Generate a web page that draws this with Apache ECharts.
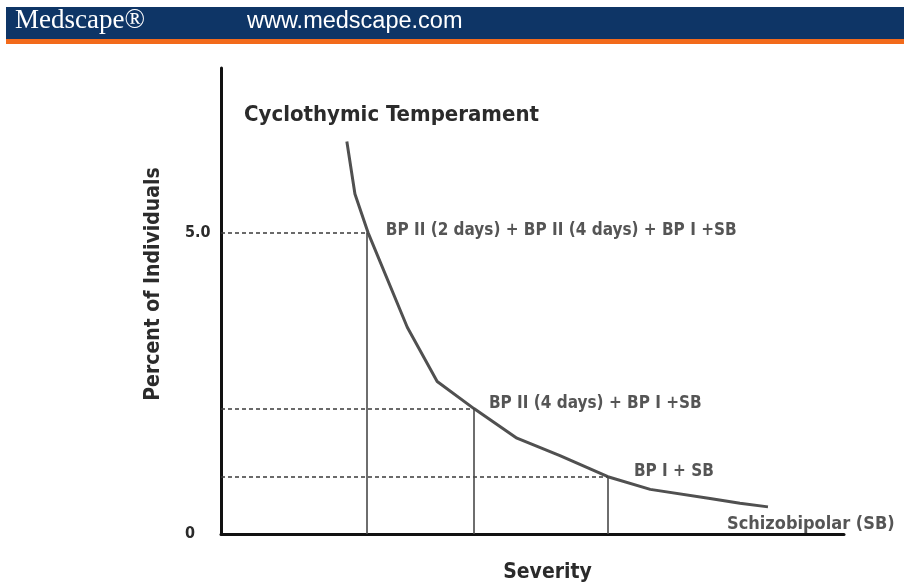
<!DOCTYPE html>
<html>
<head>
<meta charset="utf-8">
<script src="https://cdn.jsdelivr.net/npm/echarts@6/dist/echarts.min.js"></script>
<style>
  html, body { margin: 0; padding: 0; background: #fff; }
  #chart { width: 904px; height: 588px; }
</style>
</head>
<body>
<div id="chart"></div>
<script>
"use strict";

/* curve: severity (arbitrary 0-10) vs percent of individuals */
var curveSeverity = [2.02, 2.15, 2.36, 2.99, 3.47, 4.06, 4.75, 5.44, 6.21, 6.89, 7.85, 8.33, 8.78];
var curvePercent  = [6.51, 5.64, 5.00, 3.43, 2.53, 2.08, 1.59, 1.30, 0.95, 0.74, 0.59, 0.51, 0.45];

/* cut-off points with their labels */
var cutSeverity = [2.34, 4.06, 6.21];
var cutPercent  = [5.0, 2.08, 0.95];
var cutLabels   = ['BP II (2 days) + BP II (4 days) + BP I +SB', 'BP II (4 days) + BP I +SB', 'BP I + SB'];
var endLabel    = 'Schizobipolar (SB)';

var yTicks = [0, 5];

var FONT = '"DejaVu Sans Condensed", "Liberation Sans Narrow", sans-serif';
var INK = '#2b2b2b';

var chart = echarts.init(document.getElementById('chart'));

var curveData = [];
for (var i = 0; i < curveSeverity.length; i++) {
  curveData.push([curveSeverity[i], curvePercent[i]]);
}

var dashLines = [], dropLines = [], textPoints = [];
var labelOffsets = [[14, -2], [10, -5], [21, -5]];
for (var k = 0; k < cutSeverity.length; k++) {
  dashLines.push([{ coord: [0, cutPercent[k]] }, { coord: [cutSeverity[k], cutPercent[k]] }]);
  dropLines.push([{ coord: [cutSeverity[k], 0] }, { coord: [cutSeverity[k], cutPercent[k]] }]);
  textPoints.push({
    value: [cutSeverity[k], cutPercent[k]],
    label: { show: true, formatter: cutLabels[k], position: 'right', offset: labelOffsets[k] }
  });
}
// label at the tail of the curve
textPoints.push({
  value: [curveSeverity[curveSeverity.length - 1], curvePercent[curvePercent.length - 1]],
  label: { show: true, formatter: endLabel, position: 'right', offset: [-46, 17], fontSize: 18 }
});

var option = {
  backgroundColor: '#fff',
  animation: false,
  title: {
    text: 'Cyclothymic Temperament',
    left: 239, top: 99,
    textStyle: { fontFamily: FONT, fontWeight: 'bold', fontSize: 22, color: INK }
  },
  graphic: [
    { type: 'rect', shape: { x: 6, y: 7, width: 898, height: 32 }, style: { fill: '#0e3566' } },
    { type: 'rect', shape: { x: 6, y: 39, width: 898, height: 5 }, style: { fill: '#f26a1b' } },
    { type: 'text', left: 15, top: 7,
      style: { text: 'Medscape\u00ae', fill: '#fff', font: '27px "Liberation Serif", serif' } },
    { type: 'text', left: 247, top: 10,
      style: { text: 'www.medscape.com', fill: '#fff', font: '23.5px "Liberation Sans", Arial, sans-serif' } }
  ],
  grid: { left: 221, right: 60, top: 68, bottom: 49 },
  xAxis: {
    type: 'value', min: 0, max: 10,
    name: 'Severity', nameLocation: 'middle', nameGap: 28,
    nameTextStyle: { fontFamily: FONT, fontWeight: 'bold', fontSize: 21, color: INK, padding: [0, 0, 0, 30] },
    axisLine: { lineStyle: { color: '#111', width: 3 } },
    axisTick: { show: false }, axisLabel: { show: false }, splitLine: { show: false }
  },
  yAxis: {
    type: 'value', min: 0, max: 7.73,
    name: 'Percent of Individuals', nameLocation: 'middle', nameGap: 57, nameRotate: 90,
    nameTextStyle: { fontFamily: FONT, fontWeight: 'bold', fontSize: 21, color: INK, padding: [0, 0, 0, 34] },
    axisLine: { show: true, lineStyle: { color: '#111', width: 3 } },
    axisTick: { show: false },
    axisLabel: {
      customValues: yTicks, margin: 36, align: 'left', padding: [10, 0, 0, 0],
      formatter: function (v) { return v === 0 ? '0' : v.toFixed(1); },
      fontFamily: FONT, fontWeight: 'bold', fontSize: 16, color: INK
    },
    splitLine: { show: false }
  },
  series: [
    {
      type: 'line', data: curveData, symbol: 'none', silent: true, z: 3,
      lineStyle: { color: '#505050', width: 3 }
    },
    {
      type: 'line', data: [], symbol: 'none', silent: true, z: 2,
      markLine: {
        symbol: ['none', 'none'], silent: true, label: { show: false },
        lineStyle: { color: '#3a3a3a', width: 1.6, type: [4, 3] },
        data: dashLines
      }
    },
    {
      type: 'line', data: [], symbol: 'none', silent: true, z: 2,
      markLine: {
        symbol: ['none', 'none'], silent: true, label: { show: false },
        lineStyle: { color: '#4a4a4a', width: 1.6, type: 'solid' },
        data: dropLines
      }
    },
    {
      type: 'scatter', data: textPoints, symbolSize: 0, silent: true, z: 4,
      label: { fontFamily: FONT, fontWeight: 'bold', fontSize: 17, color: INK }
    }
  ]
};

chart.setOption(option);
</script>
</body>
</html>
